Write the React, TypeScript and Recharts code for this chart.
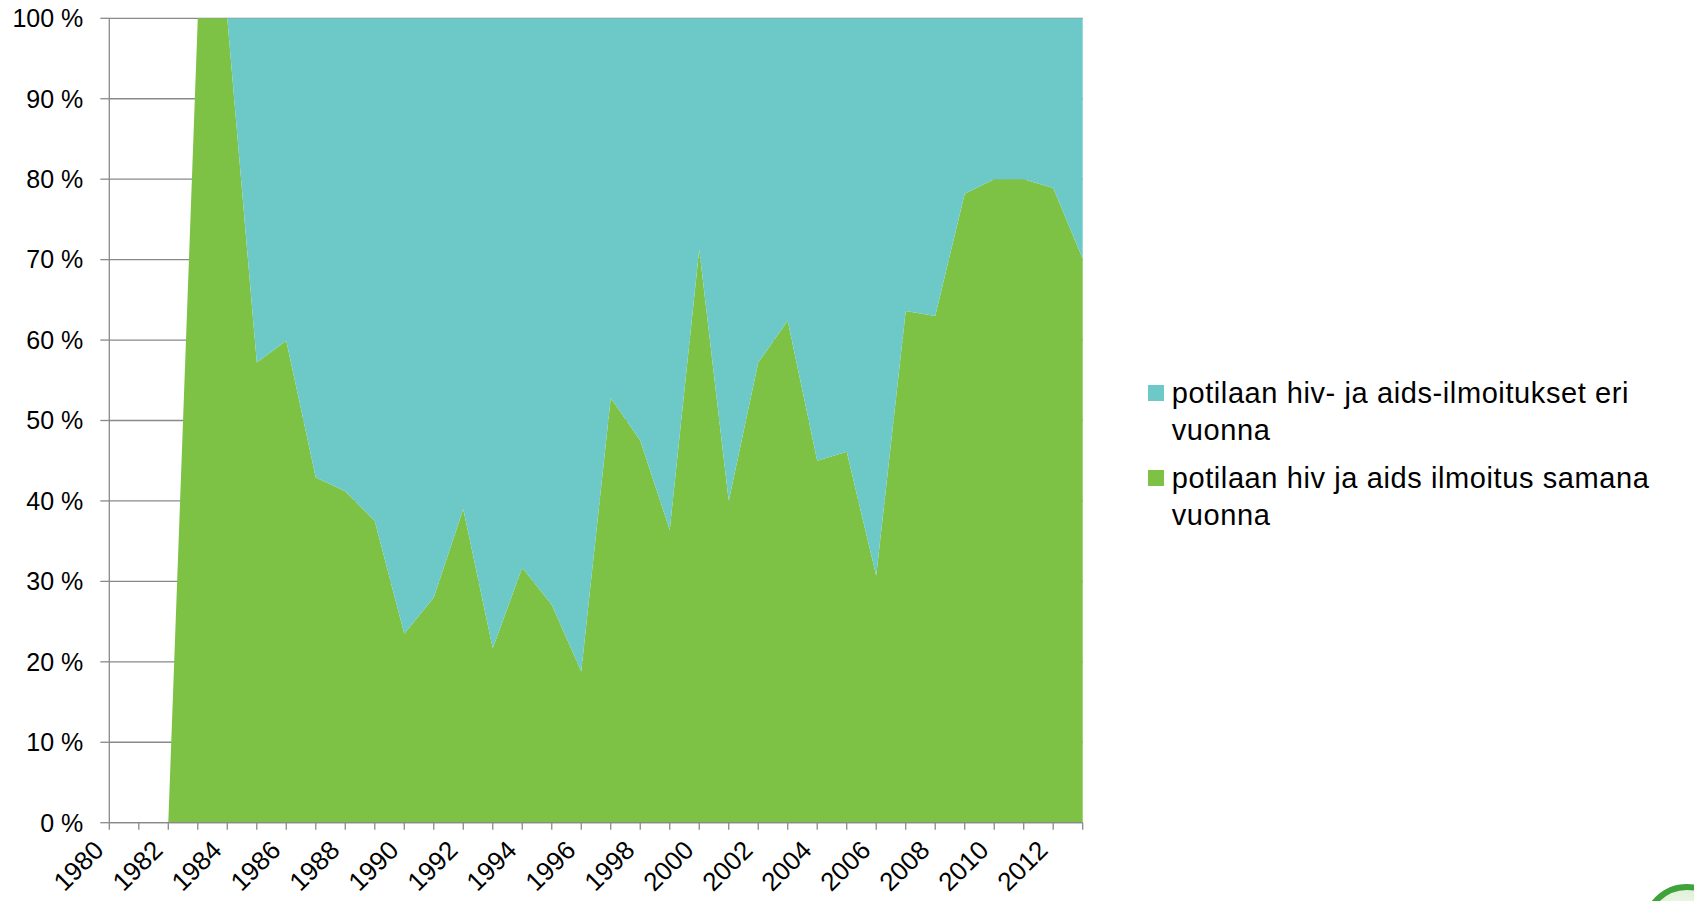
import React from 'react';
import { AreaChart, Area, XAxis, YAxis, CartesianGrid } from 'recharts';

const years = [1980, 1981, 1982, 1983, 1984, 1985, 1986, 1987, 1988, 1989, 1990, 1991, 1992, 1993, 1994, 1995, 1996, 1997, 1998, 1999, 2000, 2001, 2002, 2003, 2004, 2005, 2006, 2007, 2008, 2009, 2010, 2011, 2012, 2013];

// potilaan hiv ja aids ilmoitus samana vuonna (%)
const sameYear = [0, 0, 0, 100, 100, 57.2, 59.9, 42.9, 41.2, 37.5, 23.5, 28.0, 39.0, 21.7, 31.7, 27.1, 18.8, 52.8, 47.5, 36.4, 71.3, 40.0, 57.2, 62.4, 45.0, 46.1, 30.7, 63.6, 63.0, 78.2, 80.0, 80.0, 78.9, 70.1];

// potilaan hiv- ja aids-ilmoitukset eri vuonna (%)
const differentYear = [0, 0, 0, 0, 0, 42.8, 40.1, 57.1, 58.8, 62.5, 76.5, 72.0, 61.0, 78.3, 68.3, 72.9, 81.2, 47.2, 52.5, 63.6, 28.7, 60.0, 42.8, 37.6, 55.0, 53.9, 69.3, 36.4, 37.0, 21.8, 20.0, 20.0, 21.1, 29.9];

const yTicks = [0, 10, 20, 30, 40, 50, 60, 70, 80, 90, 100];

const seriesNames = {
  different: 'potilaan hiv- ja aids-ilmoitukset eri vuonna',
  same: 'potilaan hiv ja aids ilmoitus samana vuonna',
};

const TEAL = '#6CC9C8';
const GREEN = '#7DC245';
const GRID = '#898989';
const FONT = '"Liberation Sans", Arial, sans-serif';

const data = years.map((year, i) => ({
  year,
  same: sameYear[i],
  different: differentYear[i],
}));

const XTick = (props: any) => {
  const { x, y, payload } = props;
  if (payload.value % 2 !== 0) return <g />;
  return (
    <g transform={`translate(${x - 4},${y + 20})`}>
      <text
        x={0}
        y={0}
        textAnchor="end"
        transform="rotate(-45)"
        fontSize={26}
        fontFamily={FONT}
        fill="#000"
      >
        {payload.value}
      </text>
    </g>
  );
};

const legendItems = [
  { name: seriesNames.different, color: TEAL, top: 375.4 },
  { name: seriesNames.same, color: GREEN, top: 460.4 },
];

export default function App() {
  return (
    <div style={{ position: 'relative', width: 1694, height: 901, overflow: 'hidden', fontFamily: FONT }}>
      <style>{'html,body{margin:0;padding:0;overflow:hidden;}'}</style>
      <AreaChart
        width={1694}
        height={901}
        data={data}
        margin={{ top: 18.3, right: 611.3, bottom: 18.3, left: 0 }}
      >
        <CartesianGrid horizontal vertical={false} stroke={GRID} strokeWidth={1.3} />
        <XAxis
          dataKey="year"
          type="number"
          domain={[1980, 2013]}
          ticks={years}
          interval={0}
          tick={<XTick />}
          tickSize={7}
          height={60}
          axisLine={{ stroke: GRID, strokeWidth: 1.3 }}
          tickLine={{ stroke: GRID, strokeWidth: 1.3 }}
        />
        <YAxis
          domain={[0, 100]}
          ticks={yTicks}
          interval={0}
          width={109.3}
          tickSize={9}
          tickMargin={17}
          tickFormatter={(v: number) => `${v} %`}
          tick={{ fill: '#000', fontSize: 25, fontFamily: FONT }}
          axisLine={{ stroke: GRID, strokeWidth: 1.3 }}
          tickLine={{ stroke: GRID, strokeWidth: 1.3 }}
        />
        <Area
          type="linear"
          dataKey="same"
          name={seriesNames.same}
          stackId="1"
          fill={GREEN}
          fillOpacity={1}
          stroke="none"
          isAnimationActive={false}
          activeDot={false}
        />
        <Area
          type="linear"
          dataKey="different"
          name={seriesNames.different}
          stackId="1"
          fill={TEAL}
          fillOpacity={1}
          stroke="none"
          isAnimationActive={false}
          activeDot={false}
        />
      </AreaChart>
      {legendItems.map((item) => (
        <div key={item.name} style={{ position: 'absolute', left: 1148.3, top: item.top, width: 540 }}>
          <div
            style={{
              position: 'absolute',
              left: 0,
              top: 9.6,
              width: 15.7,
              height: 15.7,
              background: item.color,
            }}
          />
          <div
            style={{
              position: 'absolute',
              left: 23.4,
              top: 0,
              width: 505,
              fontSize: 29,
              letterSpacing: '0.6px',
              lineHeight: '36.5px',
              color: '#000',
              fontFamily: FONT,
            }}
          >
            {item.name}
          </div>
        </div>
      ))}
      <div
        style={{
          position: 'absolute',
          left: 1642,
          top: 884,
          width: 90,
          height: 90,
          borderRadius: '50%',
          border: '6px solid #3DA33A',
          boxSizing: 'border-box',
          background: 'radial-gradient(circle at 40% 30%, #F2FAEE, #BFE3AE)',
        }}
      />
    </div>
  );
}
